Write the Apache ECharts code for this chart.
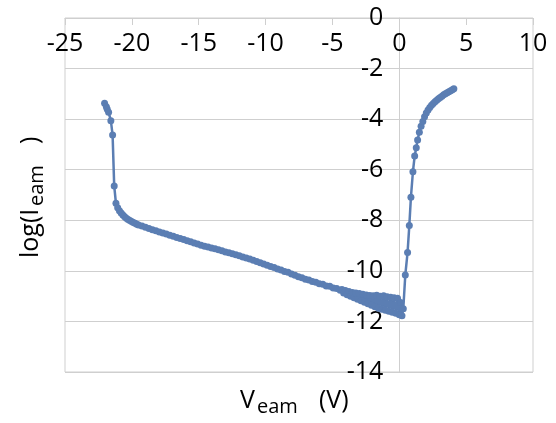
<!DOCTYPE html>
<html>
<head>
<meta charset="utf-8">
<script src="https://cdn.jsdelivr.net/npm/echarts@6/dist/echarts.min.js"></script>
<style>
html,body{margin:0;padding:0;background:#fff;}
#chart{width:556px;height:423px;}
</style>
</head>
<body>
<div id="chart"></div>
<script>
// Sweep voltage V_eam (V)
var vEam = [
  -22.04,-21.91,-21.84,-21.74,-21.57,-21.44,-21.32,-21.19,
  -21.06,-20.93,-20.80,-20.67,-20.54,-20.41,-20.28,-20.15,-20.02,-19.89,-19.76,-19.63,-19.50,
  -19.24,-18.98,-18.72,-18.46,-18.20,-17.94,-17.68,-17.42,-17.16,-16.90,-16.64,-16.38,-16.12,-15.86,-15.60,
  -15.34,-15.08,-14.82,-14.56,-14.30,-14.04,-13.78,-13.52,-13.26,-13.00,-12.74,-12.48,-12.22,-11.96,-11.70,
  -11.44,-11.18,-10.92,-10.66,-10.40,-10.14,-9.88,-9.62,-9.36,-9.10,-8.84,-8.58,
  -8.32,-8.06,-7.80,-7.54,-7.28,-7.02,-6.76,-6.50,-6.24,-5.98,-5.72,-5.46,-5.20,-4.94,-4.68,-4.42,
  -4.29,-4.16,-4.03,-3.90,-3.77,-3.64,-3.51,-3.38,-3.25,-3.12,-2.99,-2.86,-2.73,-2.60,-2.47,-2.34,-2.21,-2.08,
  -1.95,-1.82,-1.69,-1.56,-1.43,-1.30,-1.17,-1.04,-0.91,-0.78,-0.65,-0.52,-0.39,-0.26,-0.13,0.00,0.10,0.20,0.30,
  0.45,0.62,0.75,0.87,1.02,1.15,1.27,1.37,1.50,
  1.63,1.76,1.89,2.02,2.15,2.28,2.41,2.54,2.67,2.80,2.93,3.06,3.19,3.32,3.45,3.58,3.71,3.84,3.97,4.08
];
// log10 of current I_eam
var logIeam = [
  -3.37,-3.51,-3.61,-3.73,-4.06,-4.63,-6.64,-7.33,
  -7.50,-7.62,-7.71,-7.79,-7.86,-7.92,-7.97,-8.01,-8.05,-8.09,-8.12,-8.16,-8.19,
  -8.23,-8.28,-8.32,-8.37,-8.41,-8.46,-8.50,-8.54,-8.59,-8.63,-8.68,-8.72,-8.76,-8.81,-8.85,
  -8.90,-8.94,-8.99,-9.03,-9.06,-9.10,-9.13,-9.17,-9.20,-9.25,-9.28,-9.32,-9.36,-9.40,-9.45,
  -9.49,-9.53,-9.58,-9.63,-9.68,-9.73,-9.78,-9.83,-9.87,-9.93,-9.97,-10.03,
  -10.06,-10.12,-10.17,-10.23,-10.27,-10.33,-10.36,-10.42,-10.45,-10.51,-10.53,-10.60,-10.61,-10.68,-10.70,-10.77,
  -10.74,-10.88,-10.78,-10.94,-10.82,-11.00,-10.86,-11.06,-10.88,-11.12,-10.90,-11.18,-10.93,-11.24,-10.95,-11.30,-10.97,-11.36,
  -10.98,-11.42,-10.96,-11.48,-11.00,-11.52,-10.98,-11.56,-11.02,-11.60,-11.04,-11.64,-11.06,-11.68,-11.08,-11.74,-11.25,-11.78,-11.50,
  -10.16,-9.27,-8.21,-7.09,-6.08,-5.46,-5.13,-4.82,-4.52,
  -4.28,-4.09,-3.91,-3.76,-3.64,-3.54,-3.45,-3.38,-3.31,-3.25,-3.19,-3.14,-3.09,-3.04,-3.00,-2.96,-2.92,-2.88,-2.84,-2.80
];
var xTicks = {min: -25, max: 10, step: 5};
var yTicks = {min: -14, max: 0, step: 2};

var points = vEam.map(function (v, i) { return [v, logIeam[i]]; });

var FONT = 'Open Sans';
var GRID_C = '#cfcfcf';
var W = 556, H = 423, GL = 65, GR = 23;
var gridW = W - GL - GR;
// shift y-axis so it sits at x = 0
var yAxisOffset = -gridW * (0 - xTicks.min) / (xTicks.max - xTicks.min);

var chart = echarts.init(document.getElementById('chart'), null, {renderer: 'canvas'});
chart.setOption({
  animation: false,
  backgroundColor: '#fff',
  textStyle: {fontFamily: FONT},
  grid: {left: GL, right: GR, top: 18, bottom: 51, show: true, borderColor: GRID_C, borderWidth: 1, containLabel: false},
  xAxis: {
    type: 'value', min: xTicks.min, max: xTicks.max, interval: xTicks.step,
    position: 'top',
    axisLine: {show: true, onZero: false, lineStyle: {color: GRID_C, width: 1}},
    axisTick: {show: true, inside: true, length: 7, lineStyle: {color: GRID_C}},
    axisLabel: {inside: true, margin: 26, verticalAlign: 'middle', fontSize: 25, fontFamily: FONT, color: '#000'},
    splitLine: {show: false}
  },
  yAxis: {
    type: 'value', min: yTicks.min, max: yTicks.max, interval: yTicks.step,
    position: 'left', offset: yAxisOffset,
    axisLine: {show: true, onZero: false, lineStyle: {color: GRID_C, width: 1}},
    axisTick: {show: false},
    axisLabel: {margin: 16, fontSize: 25, fontFamily: FONT, color: '#000'},
    splitLine: {show: true, lineStyle: {color: GRID_C, width: 1}}
  },
  series: [{
    type: 'line',
    data: points,
    symbol: 'circle',
    symbolSize: 7,
    showSymbol: true,
    showAllSymbol: true,
    lineStyle: {color: '#5b7eb3', width: 2.5},
    itemStyle: {color: '#5b7eb3'},
    clip: false
  }],
  graphic: [
    {type: 'text', left: 240, top: 388, style: {text: 'V', fontSize: 25, fontFamily: FONT, fill: '#000'}},
    {type: 'text', left: 257, top: 397, style: {text: 'eam', fontSize: 20, fontFamily: FONT, fill: '#000'}},
    {type: 'text', left: 319, top: 388, style: {text: '(V)', fontSize: 25, fontFamily: FONT, fill: '#000'}},
    {
      type: 'group', x: 18, y: 258, rotation: Math.PI / 2,
      children: [
        {type: 'text', x: 0, y: 0, style: {text: 'log(I', fontSize: 25, fontFamily: FONT, fill: '#000', verticalAlign: 'top', align: 'left'}},
        {type: 'text', x: 52, y: 9, style: {text: 'eam', fontSize: 20, fontFamily: FONT, fill: '#000', verticalAlign: 'top', align: 'left'}},
        {type: 'text', x: 114, y: 0, style: {text: ')', fontSize: 25, fontFamily: FONT, fill: '#000', verticalAlign: 'top', align: 'left'}}
      ]
    }
  ]
});
</script>
</body>
</html>
